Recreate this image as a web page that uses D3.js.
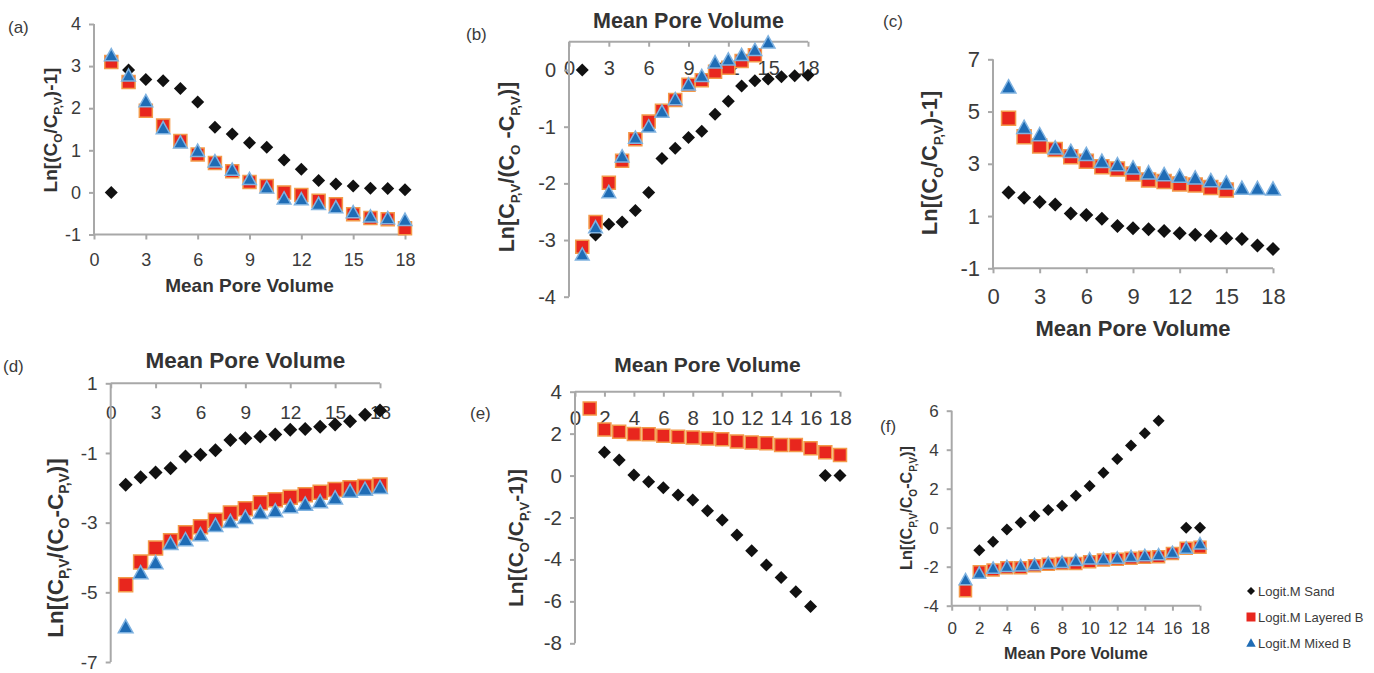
<!DOCTYPE html>
<html>
<head>
<meta charset="utf-8">
<title>Logit transforms vs mean pore volume</title>
<script src="https://cdn.jsdelivr.net/npm/d3@7"></script>
<style>
    body { margin: 0; background: #fff; }
    svg text { font-family: Arial, 'Liberation Sans', sans-serif; fill: #3b3b3b; }
    .axis path, .axis line { stroke: #a8a8a8; stroke-width: 2; }
    .axis text { fill: #3b3b3b; }
    .title { font-weight: bold; fill: #333; }
</style>
</head>
<body>
<svg id="chart" width="1374" height="673"></svg>
<script>
// ---- data ----
var poreVolume = [1, 2, 3, 4, 5, 6, 7, 8, 9, 10, 11, 12, 13, 14, 15, 16, 17, 18];
var seriesNames = ['Logit.M Sand', 'Logit.M Layered B', 'Logit.M Mixed B'];

var aSand    = [0, 2.91, 2.68, 2.65, 2.47, 2.15, 1.55, 1.39, 1.18, 1.07, 0.77, 0.55, 0.28, 0.2, 0.15, 0.1, 0.09, 0.06];
var aLayered = [3.1, 2.62, 1.94, 1.59, 1.22, 0.9, 0.7, 0.5, 0.25, 0.15, 0.0, -0.06, -0.2, -0.28, -0.52, -0.61, -0.64, -0.85];
var aMixed   = [3.25, 2.77, 2.16, 1.52, 1.18, 0.98, 0.73, 0.53, 0.31, 0.11, -0.15, -0.17, -0.28, -0.36, -0.48, -0.58, -0.62, -0.66];

var bSand    = [0, -2.91, -2.72, -2.68, -2.48, -2.16, -1.56, -1.38, -1.19, -1.08, -0.78, -0.55, -0.28, -0.19, -0.16, -0.12, -0.1, -0.09];
var bLayered = [-3.12, -2.68, -1.99, -1.6, -1.22, -0.91, -0.72, -0.53, -0.26, -0.18, -0.03, 0.04, 0.16, 0.26, null, null, null, null];
var bMixed   = [-3.26, -2.78, -2.16, -1.53, -1.2, -1.0, -0.74, -0.52, -0.26, -0.11, 0.13, 0.18, 0.26, 0.35, 0.48, null, null, null];

var cSand    = [1.9, 1.7, 1.54, 1.44, 1.1, 1.04, 0.9, 0.62, 0.53, 0.49, 0.43, 0.34, 0.28, 0.24, 0.15, 0.12, -0.13, -0.26];
var cLayered = [4.74, 4.04, 3.68, 3.55, 3.27, 3.1, 2.89, 2.8, 2.61, 2.38, 2.32, 2.23, 2.19, 2.09, 2.0, null, null, null];
var cMixed   = [5.93, 4.38, 4.1, 3.59, 3.46, 3.34, 3.08, 2.95, 2.83, 2.64, 2.57, 2.51, 2.44, 2.34, 2.25, 2.05, 2.04, 2.02];

var dSand    = [-1.91, -1.7, -1.56, -1.44, -1.1, -1.05, -0.92, -0.63, -0.58, -0.53, -0.47, -0.33, -0.31, -0.25, -0.18, -0.09, 0.1, 0.22];
var dLayered = [-4.78, -4.13, -3.73, -3.52, -3.29, -3.12, -2.93, -2.72, -2.6, -2.43, -2.34, -2.27, -2.2, -2.13, -2.05, -2.0, -1.96, -1.92];
var dMixed   = [-6.0, -4.45, -4.16, -3.61, -3.5, -3.36, -3.09, -2.98, -2.86, -2.72, -2.67, -2.55, -2.48, -2.41, -2.3, -2.11, -2.05, -2.0];

var eSand    = [null, 1.11, 0.74, 0.03, -0.29, -0.58, -0.93, -1.17, -1.68, -2.12, -2.84, -3.58, -4.27, -4.86, -5.54, -6.25, 0, 0];
var eLayered = [3.2, 2.2, 2.09, 1.98, 1.97, 1.9, 1.85, 1.82, 1.77, 1.73, 1.62, 1.58, 1.54, 1.46, 1.46, 1.3, 1.11, 0.98];

var fSand    = [null, -1.15, -0.72, -0.09, 0.27, 0.6, 0.91, 1.13, 1.64, 2.14, 2.82, 3.52, 4.21, 4.84, 5.49, null, 0, 0];
var fLayered = [-3.23, -2.26, -2.17, -2.05, -2.05, -1.95, -1.88, -1.83, -1.83, -1.74, -1.66, -1.62, -1.57, -1.52, -1.49, -1.32, -1.06, -1.0];
var fMixed   = [-2.68, -2.34, -2.09, -2.0, -1.97, -1.91, -1.83, -1.79, -1.69, -1.61, -1.61, -1.57, -1.49, -1.44, -1.4, -1.28, -1.06, -0.84];

var xTicks3 = [0, 3, 6, 9, 12, 15, 18];
var xTicks2 = [0, 2, 4, 6, 8, 10, 12, 14, 16, 18];
var yTicksA = [-1, 0, 1, 2, 3, 4];
var yTicksB = [-4, -3, -2, -1, 0];
var yTicksC = [-1, 1, 3, 5, 7];
var yTicksD = [-7, -5, -3, -1, 1];
var yTicksE = [-8, -6, -4, -2, 0, 2, 4];
var yTicksF = [-4, -2, 0, 2, 4, 6];

var xTitle = 'Mean Pore Volume';
// y titles as [text, isSubscript] pieces
var yTitleA = [['Ln[(C', 0], ['O', 1], ['/C', 0], ['P,V', 1], [')-1]', 0]];
var yTitleB = [['Ln[C', 0], ['P,V', 1], ['/(C', 0], ['O', 1], [' -C', 0], ['P,V', 1], [')]', 0]];
var yTitleD = [['Ln[(C', 0], ['P,V', 1], ['/(C', 0], ['O', 1], ['-C', 0], ['P,V', 1], [')]', 0]];
var yTitleE = [['Ln[(C', 0], ['O', 1], ['/C', 0], ['P,V', 1], ['-1)]', 0]];
var yTitleF = [['Ln[(C', 0], ['P,V', 1], ['/C', 0], ['O', 1], ['-C', 0], ['P,V', 1], [')]', 0]];

// ---- layout ----
var SAND = {shape: 'diamond', fill: '#111', stroke: 'none'};
var LAYERED = {shape: 'square', fill: '#e8261e', stroke: '#f39a4a'};
var MIXED = {shape: 'triangle', fill: '#1f6cb5', stroke: '#7fb2e0'};

var panels = [
    {tag: '(a)', tagX: 8, tagY: 33, x0: 94, x1: 405, yTop: 24, yBot: 234.5, yDom: [-1, 4],
     xTicks: xTicks3, yTicks: yTicksA, top: false, tickFs: 18, titleFs: 19, pad: 14, mk: 6.5,
     xTitleY: 292, yTitleX: 57, yTitleY: 130, yTitle: yTitleA,
     series: [[aSand, SAND], [aLayered, LAYERED], [aMixed, MIXED]]},
    {tag: '(b)', tagX: 466, tagY: 40, x0: 569, x1: 808, yTop: 41.7, yBot: 296.7, yDom: [-4, 0.5],
     xTicks: xTicks3, yTicks: yTicksB, top: true, tickFs: 20, titleFs: 21.5, pad: 14, mk: 6.5,
     xTitleY: 28, yTitleX: 514, yTitleY: 167, yTitle: yTitleB,
     series: [[bSand, SAND], [bLayered, LAYERED], [bMixed, MIXED]]},
    {tag: '(c)', tagX: 883, tagY: 27, x0: 993, x1: 1273, yTop: 59.3, yBot: 268.3, yDom: [-1, 7],
     xTicks: xTicks3, yTicks: yTicksC, top: false, tickFs: 22, titleFs: 22, pad: 15, mk: 7,
     xTitleY: 336, yTitleX: 937, yTitleY: 163, yTitle: yTitleA,
     series: [[cSand, SAND], [cLayered, LAYERED], [cMixed, MIXED]]},
    {tag: '(d)', tagX: 3, tagY: 372, x0: 110.7, x1: 380, yTop: 383.3, yBot: 662, yDom: [-7, 1],
     xTicks: xTicks3, yTicks: yTicksD, top: true, tickFs: 19, titleFs: 22.5, pad: 17, mk: 7,
     xTitleY: 368, yTitleX: 63, yTitleY: 548, yTitle: yTitleD,
     series: [[dSand, SAND], [dLayered, LAYERED], [dMixed, MIXED]]},
    {tag: '(e)', tagX: 470, tagY: 419, x0: 575, x1: 840, yTop: 391.7, yBot: 643.3, yDom: [-8, 4],
     xTicks: xTicks2, yTicks: yTicksE, top: true, tickFs: 20.5, titleFs: 21, pad: 14, mk: 6.5,
     xTitleY: 372, yTitleX: 523, yTitleY: 538, yTitle: yTitleE,
     series: [[eSand, SAND], [eLayered, LAYERED]]},
    {tag: '(f)', tagX: 880, tagY: 432, x0: 951.7, x1: 1200, yTop: 410.7, yBot: 605.7, yDom: [-4, 6],
     xTicks: xTicks2, yTicks: yTicksF, top: false, tickFs: 17, titleFs: 16.2, pad: 11, mk: 6,
     xTitleY: 659, yTitleX: 912, yTitleY: 508, yTitle: yTitleF,
     series: [[fSand, SAND], [fLayered, LAYERED], [fMixed, MIXED]]}
];

var svg = d3.select('#chart');
// plain hyphen for negatives, like the original figure
var fmt = function(d) { return String(d); };

function markerPath(shape, r) {
    if (shape === 'diamond')
        return 'M0,' + (-r) + 'L' + r + ',0L0,' + r + 'L' + (-r) + ',0Z';
    if (shape === 'square')
        return 'M' + (-r) + ',' + (-r) + 'H' + r + 'V' + r + 'H' + (-r) + 'Z';
    var h = r * 1.8;
    return 'M0,' + (-h * 0.6) + 'L' + (r * 1.05) + ',' + (h * 0.45) + 'L' + (-r * 1.05) + ',' + (h * 0.45) + 'Z';
}

function richText(el, pieces, fs) {
    pieces.forEach(function(p, i) {
        var prevSub = i > 0 && pieces[i - 1][1];
        var t = el.append('tspan').text(p[0]);
        if (p[1]) {
            t.attr('font-size', fs * 0.62).attr('dy', fs * 0.28);
        } else if (prevSub) {
            t.attr('dy', -fs * 0.28);
        }
    });
}

panels.forEach(function(p) {
    var g = svg.append('g');
    var x = d3.scaleLinear().domain([0, 18]).range([p.x0, p.x1]);
    var y = d3.scaleLinear().domain(p.yDom).range([p.yBot, p.yTop]);
    var axisY = p.top ? p.yTop : p.yBot;

    // x axis (labels always below the line, as in the figure)
    var xa = g.append('g').attr('class', 'axis')
        .attr('transform', 'translate(0,' + axisY + ')')
        .call(d3.axisBottom(x).tickValues(p.xTicks).tickFormat(fmt)
            .tickSize(5).tickSizeOuter(0).tickPadding(p.pad));
    xa.selectAll('text').attr('font-size', p.tickFs).attr('font-family', null);

    // y axis
    var ya = g.append('g').attr('class', 'axis')
        .attr('transform', 'translate(' + p.x0 + ',0)')
        .call(d3.axisLeft(y).tickValues(p.yTicks).tickFormat(fmt)
            .tickSize(5).tickSizeOuter(0).tickPadding(8));
    ya.selectAll('text').attr('font-size', p.tickFs).attr('font-family', null);
    ya.select('.domain').attr('d', 'M0,' + p.yBot + 'V' + p.yTop);
    xa.select('.domain').attr('d', 'M' + p.x0 + ',0H' + p.x1);

    // titles
    g.append('text').attr('class', 'title')
        .attr('x', (p.x0 + p.x1) / 2).attr('y', p.xTitleY)
        .attr('text-anchor', 'middle').attr('font-size', p.titleFs)
        .text(xTitle);
    var yt = g.append('text').attr('class', 'title')
        .attr('text-anchor', 'middle').attr('font-size', p.titleFs)
        .attr('transform', 'translate(' + p.yTitleX + ',' + p.yTitleY + ') rotate(-90)');
    richText(yt, p.yTitle, p.titleFs);

    g.append('text').attr('x', p.tagX).attr('y', p.tagY)
        .attr('font-size', 17).text(p.tag);

    // markers
    p.series.forEach(function(s) {
        var vals = s[0], st = s[1];
        var pts = poreVolume.map(function(v, i) { return {x: v, y: vals[i]}; })
            .filter(function(d) { return d.y !== null; });
        g.append('g').selectAll('path')
            .data(pts)
            .enter()
            .append('path')
            .attr('d', markerPath(st.shape, p.mk))
            .attr('transform', function(d) { return 'translate(' + x(d.x) + ',' + y(d.y) + ')'; })
            .attr('fill', st.fill)
            .attr('stroke', st.stroke)
            .attr('stroke-width', 1.5);
    });
});

// legend
var legendStyles = [SAND, LAYERED, MIXED];
var lg = svg.append('g').attr('transform', 'translate(1251,591)');
seriesNames.forEach(function(name, i) {
    var row = lg.append('g').attr('transform', 'translate(0,' + i * 26 + ')');
    var st = legendStyles[i];
    row.append('path')
        .attr('d', markerPath(st.shape, st.shape === 'diamond' ? 4 : 4.5))
        .attr('fill', st.fill);
    row.append('text').attr('x', 7).attr('y', 5)
        .attr('font-size', 13).attr('fill', '#444').text(name);
});
</script>
</body>
</html>
